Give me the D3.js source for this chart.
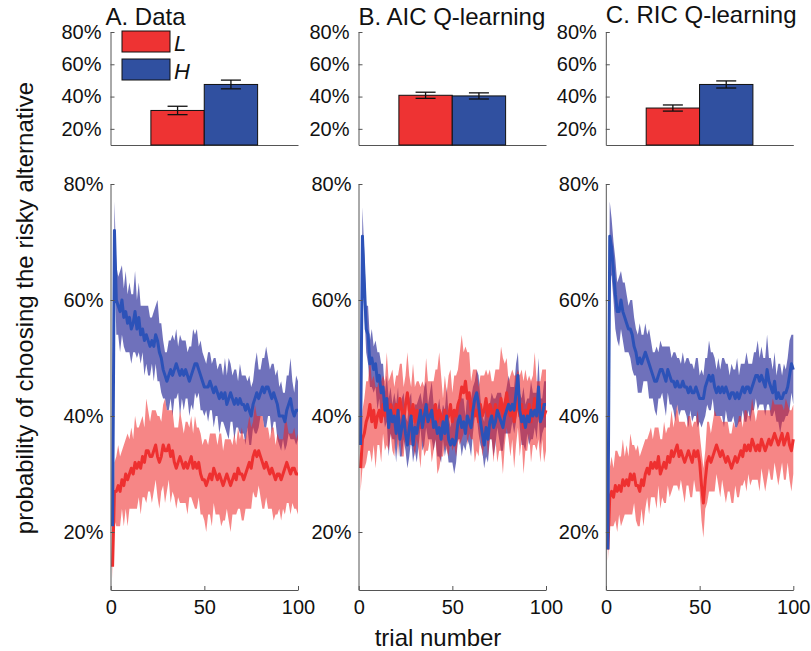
<!DOCTYPE html>
<html>
<head>
<meta charset="utf-8">
<script src="https://cdn.jsdelivr.net/npm/d3@7"></script>
<style>
  body { margin: 0; background: #fff; }
  svg { font-family: Arial, "Liberation Sans", sans-serif; }
</style>
</head>
<body>
<div id="chart"></div>
<script>
// panels and groups
const panelTitles = ["A. Data", "B. AIC Q-learning", "C. RIC Q-learning"];
const groups = ["L", "H"];

// bar summaries (percent)
const barMeanL = [31.4, 40.8, 32.9];
const barMeanH = [47.5, 40.4, 47.5];
const barErrL = [2.6, 1.9, 1.9];
const barErrH = [2.7, 1.9, 2.2];

// tick labels
const yTicks = [20, 40, 60, 80];
const xTicks = [0, 50, 100];

// per-trial curves (percent), trials 1..100
const meanAL = [14,27,27,28,27,29,28,30,29,30, 31,30,32,31,32,31,33,32,34,34, 33,33,34,35,33,32,33,35,34,34, 35,33,34,32,31,32,33,32,31,32,
  31,32,33,31,32,31,32,30,29,29, 28,29,30,29,31,30,29,30,29,28, 29,30,29,28,29,30,29,31,30,30, 29,30,31,32,31,33,34,33,34,33,
  32,31,32,31,30,31,30,29,30,30, 29,30,31,32,31,30,31,31,30,30];
const semAL = [2,5,6,7,6,5,7,6,8,6, 7,6,8,7,6,8,7,6,9,7, 6,8,7,6,7,8,6,7,9,7, 6,8,7,6,7,6,8,7,6,7, 8,6,7,6,8,7,6,7,6,7,
  8,6,7,8,6,7,6,7,8,6, 7,6,7,8,6,7,6,7,6,8, 7,6,7,8,7,6,8,7,6,7, 8,7,6,7,6,7,8,6,7,6, 7,6,8,7,6,7,6,7,6,7];
const meanAH = [21,72,60,59,58,60,57,58,56,57, 55,56,58,55,57,54,55,53,54,53, 52,53,52,54,53,51,50,48,47,46, 47,48,47,48,49,48,47,48,47,48,
  47,46,47,48,49,49,48,47,46,45, 45,45,46,45,44,45,44,43,44,43, 44,42,43,44,43,42,43,42,43,42, 42,41,42,41,40,42,43,44,43,44,
  45,44,45,45,44,43,44,43,42,40, 40,40,39,41,42,43,41,40,41,41];
const semAH = [1,5,6,5,7,6,5,7,5,6, 6,5,7,5,6,5,4,6,5,6, 5,4,6,5,7,5,6,5,4,5, 6,5,7,5,6,4,7,5,6,5, 4,6,5,7,5,6,4,6,5,5,
  4,6,5,4,6,5,4,6,5,4, 6,5,7,5,4,6,5,4,6,5, 5,6,4,6,5,4,6,7,5,4, 5,6,7,5,4,6,5,4,6,5, 6,4,5,6,5,7,5,4,6,5];

const meanBL = [31,36,37,39,40,42,39,41,38,40, 41,39,42,40,43,40,42,41,39,42, 40,43,41,39,42,44,41,40,42,39, 41,40,38,41,39,42,40,41,39,40,
  42,39,41,40,38,41,39,40,42,39, 41,40,42,43,45,44,46,43,44,41, 42,40,41,39,42,40,41,43,40,42, 41,39,42,40,41,43,40,42,44,41,
  40,42,39,41,43,40,42,38,41,40, 42,39,41,43,40,41,39,42,40,41];
const semBL = [4,5,6,7,6,8,7,6,7,5, 6,7,5,6,8,6,5,7,6,5, 7,6,8,6,5,7,6,5,7,6, 5,6,7,5,6,8,6,5,7,6, 6,9,10,7,5,6,5,7,6,5,
  6,7,6,8,9,7,6,8,7,5, 6,8,7,6,5,7,6,5,7,6, 5,7,6,8,7,9,10,7,6,5, 7,6,8,6,5,7,6,8,7,6, 5,7,6,8,6,5,7,6,8,7];
const meanBH = [35,71,63,55,54,49,50,48,49,46, 47,44,45,41,43,38,41,39,40,37, 41,36,38,40,37,35,38,40,35,38, 37,39,41,38,40,42,39,40,41,38,
  39,37,38,36,39,37,40,36,35,36, 35,36,39,40,38,39,37,40,39,38, 41,43,44,42,39,37,35,38,36,39, 40,38,39,41,40,39,38,40,41,42,
  41,42,41,44,47,41,39,40,38,40, 39,41,40,41,40,45,39,40,42,42];
const semBH = [1,5,5,4,5,4,5,4,4,5, 4,5,4,3,4,5,4,3,4,5, 4,3,5,4,3,4,5,4,3,4, 5,4,3,4,5,4,3,4,5,4, 3,4,5,4,3,4,5,4,3,4,
  5,4,3,4,5,4,3,4,4,5, 4,3,4,5,4,3,4,5,4,3, 4,5,4,3,4,5,4,3,4,5, 4,3,4,5,4,3,4,5,4,3, 4,5,4,3,4,5,4,3,4,4];

const meanCL = [17,26,27,26,28,27,28,27,29,28, 29,28,30,29,30,28,28,27,29,28, 30,31,30,32,31,32,31,33,30,31, 32,31,33,32,34,33,34,35,33,34,
  33,32,33,34,33,32,34,33,34,32, 28,25,29,32,33,32,33,34,35,34, 33,34,33,32,33,32,31,32,33,32, 33,34,33,35,34,35,34,36,35,34,
  35,34,36,35,34,35,36,35,36,37, 36,35,36,37,35,36,37,35,34,36];
const semCL = [2,5,6,5,6,7,5,6,7,5, 6,5,7,6,5,6,7,6,5,7, 6,5,7,6,5,6,7,5,6,5, 7,6,5,6,7,5,6,7,6,5, 6,7,5,6,7,6,5,6,7,5,
  6,6,5,7,6,5,6,7,5,6, 7,5,6,7,6,5,6,7,5,6, 7,6,5,6,7,5,6,7,6,5, 6,7,5,6,7,6,5,6,7,5, 6,7,6,5,6,7,5,6,7,6];
const meanCH = [17,71,69,65,61,58,58,60,58,57, 56,55,55,54,52,51,49,50,49,50, 51,50,49,48,47,46,46,47,48,48, 47,46,48,47,46,46,45,46,45,45,
  46,45,45,44,45,44,44,45,44,43, 43,43,45,46,47,46,47,45,44,45, 44,45,44,45,44,43,44,44,43,44, 43,44,45,44,45,45,44,45,46,47,
  47,46,47,46,45,48,46,45,44,46, 43,44,43,43,44,44,45,47,49,48];
const semCH = [1,6,5,5,6,5,6,5,5,6, 5,4,5,6,5,4,5,6,5,4, 5,4,6,5,4,5,6,4,5,4, 5,6,4,5,4,5,6,4,5,4, 5,4,5,6,4,5,4,5,6,4,
  5,4,5,4,6,5,4,5,4,5, 4,5,6,4,5,4,5,4,5,6, 4,5,4,5,6,4,5,4,5,4, 6,4,5,4,5,6,4,5,4,5, 4,5,6,4,5,4,5,6,5,6];

const curveMeanL = [meanAL, meanBL, meanCL];
const curveSemL = [semAL, semBL, semCL];
const curveMeanH = [meanAH, meanBH, meanCH];
const curveSemH = [semAH, semBH, semCH];

(() => {
  const width = 811;
  const height = 651;

  const svg = d3
    .select("#chart")
    .append("svg")
    .attr("width", width)
    .attr("height", height);

  const left = [110.5, 358.5, 605.8];
  const pw = 187.5;
  const barFill = { L: "#ee3333", H: "#3050a0" };
  const lineColor = { L: "#ee3030", H: "#2c52b8" };
  const axisColor = "#555";

  const styleAxis = (g) => {
    g.select(".domain").attr("stroke", axisColor);
    g.selectAll(".tick line").attr("stroke", axisColor);
    g.selectAll(".tick text").attr("fill", "#111").style("font-size", "20px");
  };

  const yBar = d3.scaleLinear().domain([10, 80]).range([145, 32]);
  const yLine = d3.scaleLinear().domain([10, 80]).range([590, 184]);

  panelTitles.forEach((title, i) => {
    // ---- bar panel ----
    const xBar = d3
      .scaleBand()
      .domain(groups)
      .range([left[i], left[i] + pw])
      .paddingInner(0)
      .paddingOuter(0.757);

    const bars = [
      { g: "L", m: barMeanL[i], e: barErrL[i] },
      { g: "H", m: barMeanH[i], e: barErrH[i] },
    ];

    const bp = svg.append("g");
    bp.append("g")
      .attr("transform", `translate(0,${yBar(10)})`)
      .call(d3.axisBottom(xBar).tickValues([]).tickSizeOuter(0))
      .call(styleAxis);

    bp.selectAll("rect.bar")
      .data(bars)
      .join("rect")
      .attr("class", "bar")
      .attr("x", (d) => xBar(d.g))
      .attr("width", xBar.bandwidth())
      .attr("y", (d) => yBar(d.m))
      .attr("height", (d) => yBar(10) - yBar(d.m))
      .attr("fill", (d) => barFill[d.g])
      .attr("stroke", "#111")
      .attr("stroke-width", 1);

    const eb = bp.selectAll("g.err").data(bars).join("g").attr("class", "err")
      .attr("stroke", "#111").attr("stroke-width", 1.3);
    const cx = (d) => xBar(d.g) + xBar.bandwidth() / 2;
    eb.append("line").attr("x1", cx).attr("x2", cx)
      .attr("y1", (d) => yBar(d.m - d.e)).attr("y2", (d) => yBar(d.m + d.e));
    eb.append("line").attr("x1", (d) => cx(d) - 10).attr("x2", (d) => cx(d) + 10)
      .attr("y1", (d) => yBar(d.m - d.e)).attr("y2", (d) => yBar(d.m - d.e));
    eb.append("line").attr("x1", (d) => cx(d) - 10).attr("x2", (d) => cx(d) + 10)
      .attr("y1", (d) => yBar(d.m + d.e)).attr("y2", (d) => yBar(d.m + d.e));

    bp.append("g")
      .attr("transform", `translate(${left[i]},0)`)
      .call(d3.axisLeft(yBar).tickValues(yTicks).tickFormat((d) => d + "%")
        .tickSize(-4).tickSizeOuter(0).tickPadding(9))
      .call(styleAxis);

    svg.append("text")
      .attr("x", i === 0 ? left[i] - 5 : left[i])
      .attr("y", [25, 25, 23][i])
      .attr("fill", "#111")
      .style("font-size", "24px")
      .text(title);

    // ---- trial curves ----
    const x = d3.scaleLinear().domain([0, 100]).range([left[i] + 0.2, left[i] + pw]);
    const series = [
      { g: "H", pts: curveMeanH[i].map((m, k) => ({ t: k + 1, m, s: curveSemH[i][k] })) },
      { g: "L", pts: curveMeanL[i].map((m, k) => ({ t: k + 1, m, s: curveSemL[i][k] })) },
    ];

    const area = d3.area()
      .x((d) => x(d.t))
      .y0((d) => yLine(d.m - d.s))
      .y1((d) => yLine(d.m + d.s));
    const line = d3.line().x((d) => x(d.t)).y((d) => yLine(d.m));

    const lp = svg.append("g");
    // bands: blue first, red over it
    lp.append("path").datum(series[0].pts).attr("d", area)
      .attr("fill", "#2b2d9b").attr("fill-opacity", 0.68);
    lp.append("path").datum(series[1].pts).attr("d", area)
      .attr("fill", "#ee2222").attr("fill-opacity", 0.55);
    // mean lines
    lp.append("path").datum(series[1].pts).attr("d", line)
      .attr("fill", "none").attr("stroke", lineColor.L).attr("stroke-width", 3)
      .attr("stroke-linejoin", "round");
    lp.append("path").datum(series[0].pts).attr("d", line)
      .attr("fill", "none").attr("stroke", lineColor.H).attr("stroke-width", 3)
      .attr("stroke-linejoin", "round");

    lp.append("g")
      .attr("transform", `translate(0,${yLine(10)})`)
      .call(d3.axisBottom(x).tickValues(xTicks).tickSize(-4).tickSizeOuter(0).tickPadding(10))
      .call(styleAxis);
    lp.append("g")
      .attr("transform", `translate(${left[i]},0)`)
      .call(d3.axisLeft(yLine).tickValues(yTicks).tickFormat((d) => d + "%")
        .tickSize(-4).tickSizeOuter(0).tickPadding(7))
      .call(styleAxis);
  });

  // legend (panel A)
  const legend = svg.append("g");
  groups.forEach((g, k) => {
    legend.append("rect")
      .attr("x", 122).attr("y", 31 + k * 28)
      .attr("width", 48).attr("height", 21)
      .attr("fill", barFill[g]).attr("stroke", "#111").attr("stroke-width", 1);
    legend.append("text")
      .attr("x", 174).attr("y", 51 + k * 28)
      .attr("fill", "#111")
      .style("font-size", "22px").style("font-style", "italic")
      .text(g);
  });

  svg.append("text")
    .attr("transform", "translate(33,308) rotate(-90)")
    .attr("text-anchor", "middle")
    .attr("fill", "#111")
    .style("font-size", "24px")
    .text("probability of choosing the risky alternative");

  svg.append("text")
    .attr("x", 438).attr("y", 646)
    .attr("text-anchor", "middle")
    .attr("fill", "#111")
    .style("font-size", "24px")
    .text("trial number");
})();
</script>
</body>
</html>
